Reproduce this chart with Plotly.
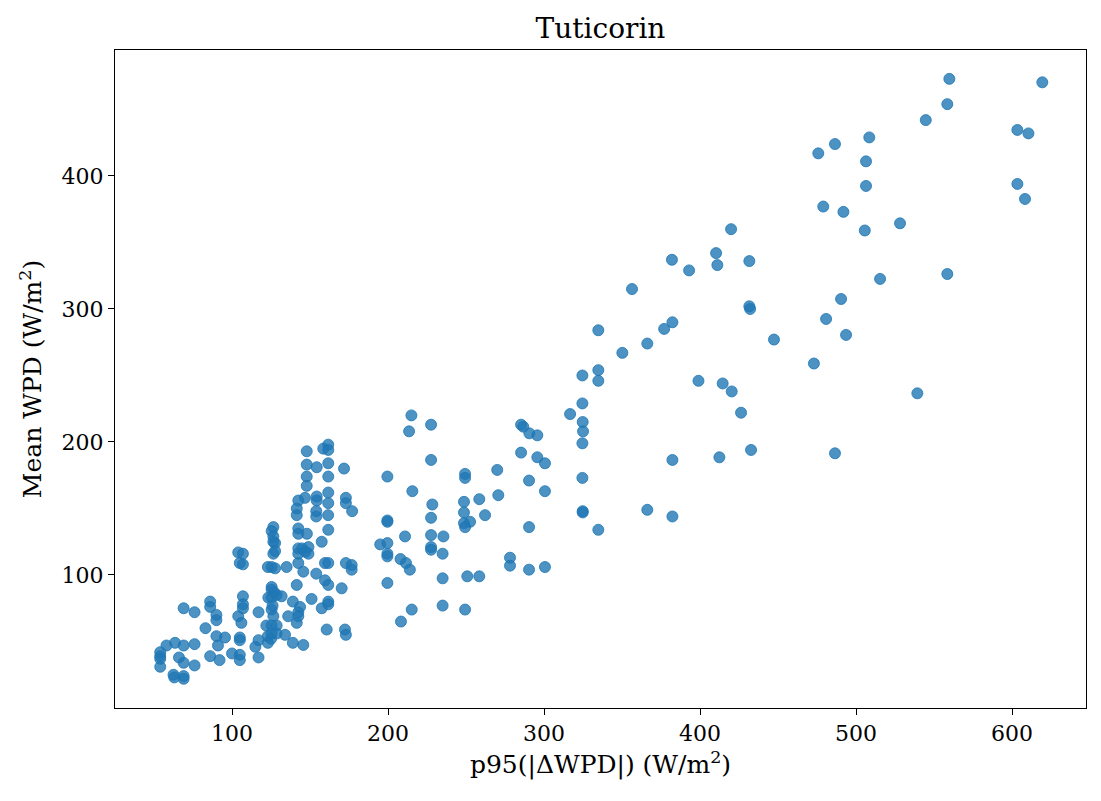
import plotly.graph_objects as go

p95_dwpd = [
    54, 54, 54, 54, 58, 63.5, 62.5, 63, 66, 69, 69, 69, 69, 69, 76, 76, 76, 83, 86, 86, 86,
    90, 90, 90, 91, 92, 95.5, 100, 104, 107, 105, 107, 107, 107, 107, 104, 106,
    105, 105, 105, 105, 115, 117, 117, 117, 122, 123, 125, 123,
    126.5, 125.4, 126.5, 126.5, 127.6, 126.5, 127.6, 123, 125.4, 127.6,
    125.4, 125.4, 123.3, 125.4, 128.6, 131.8, 125.4, 126.5, 125.4, 128.6, 125.4, 128.6, 126, 127,
    135, 134, 136, 139, 139, 141.5, 142.5, 145.7, 141.5, 142.5, 143.6, 142.5, 145.7,
    142.5, 142.5, 148, 142.5, 145, 149, 147, 142.5, 149,
    141.5, 141.5, 142.5, 146.8, 154.3, 154.3, 154, 154, 161.6, 157.5, 161.7,
    147.9, 147.9, 154.3, 147.9, 147.9, 161.7, 158.5, 161.7, 161.7, 161.7, 161.7, 161.7,
    171.8, 173, 173, 177,
    151, 154, 159.6, 161.7, 159.6, 161.7, 161.7, 157.5, 161.7, 160.7,
    173, 176.7, 176.7, 170.3, 172.4, 173,
    195, 199.6, 199.6, 199.6, 199.6, 199.6, 199.6, 199.6,
    208, 211.5, 214, 210.9, 208.3, 215.2, 215, 213.5, 215.6,
    227.6, 227.6, 228.4, 227.6, 227.6, 227.6, 227.6, 235.5, 235, 235, 235,
    249.4, 249.4, 248.7, 248.7, 248.7, 252.6, 249.4, 250.8, 249.4, 258.5, 258.5, 262.2, 270, 270.7,
    278.2, 278.2,
    285.3, 286.7, 290.6, 295.7, 285.3, 295.7, 300.6, 290.4, 300.6, 290.4, 290.4, 300.6,
    316.7, 324.6, 324.6, 324.8, 325, 324.6, 324.6, 324.8, 324.8, 334.8, 334.8, 334.8, 334.8,
    350.2, 356.4, 366.2, 366.2, 377, 382.3, 382, 393, 382.3, 382.3,
    399, 410.3, 411.1, 419.9, 431.6, 431.6, 432.1, 414.5, 420.3, 426.3, 412.4, 432.7, 447.4,
    473, 475.8, 479, 480.8, 486.5, 486.5, 490.4, 491.9, 493.6,
    505.6, 506.4, 506.4, 508.5, 515.4, 528.2, 539.3, 544.7, 558.5, 559.8, 558.5,
    603.4, 610.5, 603.4, 608.3, 619.4,
]

mean_wpd = [
    42, 39, 37, 31, 47, 49, 25, 23, 38, 75, 47, 34, 24, 22, 72, 48, 32, 60, 80, 76, 39,
    70, 66, 54, 47, 36, 53, 41, 117, 116, 109, 108, 84, 78, 75, 69, 64,
    53, 51, 40, 36, 46, 72, 51, 38, 62, 54, 52, 49,
    136, 133, 129, 125, 124, 116, 118, 106, 106, 105,
    91, 89, 83, 83, 85, 84, 74, 69, 62, 62, 56, 56, 77, 87,
    106, 55, 69, 80, 49, 92.5, 109, 102.5, 64, 69, 76, 72, 47.4,
    135, 131, 131, 120, 120, 121, 117.5, 116, 116,
    150, 145, 156, 158, 159, 156, 148, 144, 145, 125, 134,
    193, 183, 181, 174, 167, 198, 195, 194, 184, 174, 162, 154,
    180, 158, 154, 148,
    82, 101, 109, 109, 96, 92.5, 80, 75, 78, 59,
    109, 107.5, 104, 90, 59, 55,
    123, 124, 116, 114, 141, 140, 174, 94,
    112, 109, 104, 129, 65, 74, 220, 208, 163,
    213, 186.5, 153, 143, 130, 121, 119, 129, 116, 97.5, 77,
    176, 173, 155, 147, 139, 140, 136, 99, 74, 157, 99, 145, 179, 160,
    113, 107,
    213, 211.5, 206.5, 205, 192, 188.5, 184, 171, 163, 136, 104, 106,
    221, 250, 229, 215, 208, 199, 173, 148, 147, 284, 254, 246, 134,
    267, 315, 274, 149, 285, 290, 337, 329, 186.5, 144,
    246, 342, 333, 360, 336, 302, 300, 244, 238, 222, 188.5, 194, 277,
    259, 417, 377, 292.5, 424, 191.5, 307.5, 373, 280.5,
    359, 411, 392.5, 429, 322.6, 364.4, 236.6, 442, 454, 473, 326.3,
    434.6, 432, 394, 382.7, 470.4,
]

x_ticks = [100, 200, 300, 400, 500, 600]
y_ticks = [100, 200, 300, 400]

font_family = "DejaVu Serif"
dot_color = "rgba(31,119,180,0.8)"

fig = go.Figure()
fig.add_trace(go.Scatter(
    x=p95_dwpd,
    y=mean_wpd,
    mode="markers",
    marker=dict(size=11, color=dot_color, line=dict(color=dot_color, width=1)),
    showlegend=False,
))

axis_common = dict(
    showline=True, linecolor="black", linewidth=1, mirror=True,
    ticks="outside", ticklen=6, tickwidth=1, tickcolor="black",
    showgrid=False, zeroline=False,
    tickfont=dict(family=font_family, size=22, color="black"),
)

fig.update_layout(
    width=1101, height=801,
    margin=dict(l=115, r=15, t=50, b=93),
    paper_bgcolor="white", plot_bgcolor="white",
    font=dict(family=font_family, color="black"),
    title=dict(text="Tuticorin", x=0.5, xref="paper", xanchor="center",
               y=1 - 28 / 801, yref="container", yanchor="middle",
               font=dict(family=font_family, size=28, color="black")),
    xaxis=dict(range=[25, 647.4], tickvals=x_ticks,
               title=dict(text="p95(|ΔWPD|) (W/m<sup>2</sup>)", standoff=10,
                          font=dict(family=font_family, size=25, color="black")),
               **axis_common),
    yaxis=dict(range=[0, 494.7], tickvals=y_ticks,
               title=dict(text="Mean WPD (W/m<sup>2</sup>)", standoff=12,
                          font=dict(family=font_family, size=25, color="black")),
               **axis_common),
)

fig.write_html("out.html")
